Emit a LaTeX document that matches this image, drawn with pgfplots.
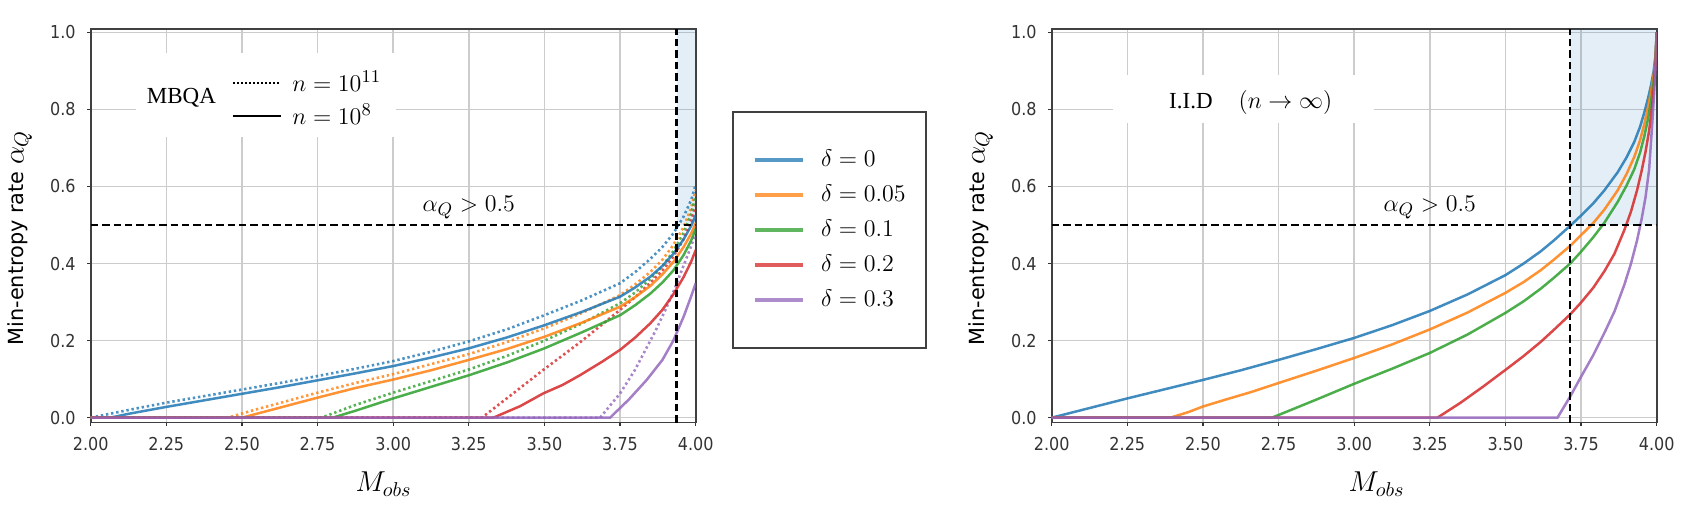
\documentclass[border=0pt]{standalone}
\usepackage{fontspec}
\setmainfont{DejaVu Sans}
\newfontfamily\tickfont{DejaVu Sans}[FakeStretch=0.9]
\newfontfamily\serifrm{Liberation Serif}
\usepackage{pgfplots}
\pgfplotsset{compat=1.18}
\definecolor{c0}{RGB}{31,119,180}
\definecolor{c1}{RGB}{255,127,14}
\definecolor{c2}{RGB}{44,160,44}
\definecolor{c3}{RGB}{214,39,40}
\definecolor{c4}{RGB}{148,103,189}
\pgfplotsset{
  myaxis/.style={
    scale only axis, width=302.5pt, height=196.7pt,
    xmin=2, xmax=4, ymin=-0.013, ymax=1.008,
    xtick={2,2.25,2.5,2.75,3,3.25,3.5,3.75,4},
    ytick={0,0.2,0.4,0.6,0.8,1},
    scaled ticks=false,
    /pgf/number format/assume math mode=true,
    xticklabel style={/pgf/number format/fixed, /pgf/number format/fixed zerofill, /pgf/number format/precision=2, inner sep=0pt, yshift=-5.4pt},
    yticklabel style={/pgf/number format/fixed, /pgf/number format/fixed zerofill, /pgf/number format/precision=1, inner sep=0pt, xshift=-5.6pt},
    tick label style={font=\tickfont\fontsize{8.9}{10}\selectfont, text=black!80},
    tick align=outside, major tick length=1.75pt,
    tick style={draw=black!80, line width=0.6pt},
    xtick pos=left, ytick pos=left,
    grid=major, major grid style={draw=black!20, line width=0.8pt},
    axis line style={draw=black!75, line width=0.8pt},
    ylabel={Min-entropy rate {\fontsize{14}{16}\selectfont$\alpha_Q$}},
    ylabel style={at={(axis description cs:-0.117,0.47)}, anchor=center, font=\fontsize{10.4}{12}\selectfont},
    xlabel={$M_{obs}$},
    xlabel style={anchor=base, font=\fontsize{14}{16}\selectfont},
    sol/.style={line width=1.25pt, draw opacity=0.85},
    dot/.style={line width=1.3pt, draw opacity=0.8, dash pattern=on 1.2pt off 1.4pt},
    thr/.style={black, line width=1.3pt, dash pattern=on 3.7pt off 2pt, forget plot},
  }
}
\begin{document}
\begin{tikzpicture}
\path[use as bounding box] (0,0) rectangle (846pt,259pt);
% ---------------- left axis (MBQA) ----------------
\begin{axis}[myaxis, at={(45.35pt,47.65pt)}, anchor=south west,
  xlabel style={at={(axis description cs:0.484,-0.176)}},
  legend style={at={(axis description cs:0.2322,0.8216)}, anchor=west, draw=none, fill=none,
    inner sep=0pt, column sep=5pt, row sep=0pt, font=\fontsize{12.5}{14}\selectfont,
    nodes={inner sep=0pt, minimum height=16.5pt}},
  legend cell align=left,
  legend image code/.code={\draw[#1] (0pt,0pt) -- (24pt,0pt);}]
\addplot[draw=none, fill=c0, fill opacity=0.12, forget plot] coordinates {(3.937,0.5) (4,0.5) (4,1.008) (3.937,1.008)} -- cycle;
% dotted n = 1e11
\addplot[dot, c0, forget plot] coordinates {(2.000,0) (2.125,0.020) (2.250,0.039) (2.375,0.056) (2.500,0.073) (2.625,0.090) (2.750,0.108) (2.875,0.127) (3.000,0.147) (3.125,0.171) (3.250,0.198) (3.375,0.229) (3.500,0.266) (3.625,0.305) (3.750,0.349) (3.800,0.378) (3.850,0.412) (3.890,0.443) (3.926,0.478) (3.960,0.522) (3.985,0.565) (4.000,0.605)};
\addplot[dot, c1, forget plot] coordinates {(2.000,0) (2.453,0) (2.540,0.020) (2.625,0.038) (2.750,0.065) (2.875,0.090) (3.000,0.113) (3.125,0.139) (3.250,0.165) (3.375,0.196) (3.500,0.232) (3.625,0.272) (3.750,0.318) (3.800,0.346) (3.850,0.378) (3.890,0.410) (3.926,0.448) (3.960,0.495) (3.985,0.545) (4.000,0.590)};
\addplot[dot, c2, forget plot] coordinates {(2.000,0) (2.763,0) (2.820,0.017) (2.875,0.033) (3.000,0.065) (3.125,0.095) (3.250,0.125) (3.375,0.160) (3.500,0.200) (3.625,0.245) (3.750,0.297) (3.800,0.325) (3.850,0.360) (3.890,0.393) (3.926,0.432) (3.960,0.480) (3.985,0.530) (4.000,0.575)};
\addplot[dot, c3, forget plot] coordinates {(2.000,0) (3.293,0) (3.400,0.065) (3.496,0.124) (3.617,0.195) (3.700,0.248) (3.750,0.280) (3.800,0.313) (3.850,0.350) (3.890,0.382) (3.926,0.418) (3.960,0.463) (3.985,0.510) (4.000,0.550)};
\addplot[dot, c4, forget plot] coordinates {(2.000,0) (3.684,0) (3.750,0.063) (3.800,0.125) (3.838,0.182) (3.870,0.230) (3.900,0.280) (3.926,0.326) (3.960,0.395) (3.985,0.445) (4.000,0.480)};
% solid n = 1e8
\addplot[sol, c0, forget plot] coordinates {(2.000,0) (2.064,0) (2.125,0.010) (2.250,0.028) (2.375,0.045) (2.500,0.062) (2.625,0.079) (2.750,0.097) (2.875,0.115) (3.000,0.134) (3.125,0.156) (3.250,0.180) (3.375,0.208) (3.500,0.240) (3.625,0.275) (3.750,0.314) (3.800,0.338) (3.850,0.366) (3.890,0.394) (3.926,0.425) (3.960,0.463) (3.985,0.498) (4.000,0.525)};
\addplot[sol, c1, forget plot] coordinates {(2.000,0) (2.500,0) (2.625,0.026) (2.750,0.052) (2.875,0.077) (3.000,0.099) (3.125,0.123) (3.250,0.150) (3.375,0.178) (3.500,0.210) (3.625,0.247) (3.750,0.288) (3.800,0.313) (3.850,0.342) (3.890,0.372) (3.926,0.404) (3.960,0.443) (3.985,0.478) (4.000,0.505)};
\addplot[sol, c2, forget plot] coordinates {(2.000,0) (2.800,0) (2.875,0.018) (3.000,0.050) (3.125,0.080) (3.250,0.110) (3.375,0.143) (3.500,0.180) (3.625,0.222) (3.750,0.266) (3.800,0.292) (3.850,0.322) (3.890,0.351) (3.926,0.382) (3.960,0.422) (3.985,0.460) (4.000,0.490)};
\addplot[sol, c3, forget plot] coordinates {(2.000,0) (3.331,0) (3.420,0.030) (3.496,0.063) (3.560,0.085) (3.617,0.110) (3.690,0.145) (3.750,0.176) (3.800,0.208) (3.850,0.245) (3.890,0.280) (3.926,0.320) (3.960,0.365) (3.985,0.405) (4.000,0.435)};
\addplot[sol, c4, forget plot] coordinates {(2.000,0) (3.717,0) (3.780,0.048) (3.838,0.098) (3.890,0.150) (3.926,0.200) (3.960,0.262) (3.985,0.315) (4.000,0.349)};
% thresholds
\addplot[thr] coordinates {(2,0.5) (4,0.5)};
\addplot[thr] coordinates {(3.937,-0.013) (3.937,1.008)};
\node[fill=white, inner sep=0pt, minimum width=130pt, minimum height=42pt] at (axis description cs:0.29,0.833) {};
\node[font=\serifrm\fontsize{11.5}{13}\selectfont] at (axis description cs:0.150,0.8254) {MBQA};
\node[font=\fontsize{12.5}{14}\selectfont, anchor=base] at (axis cs:3.25,0.534) {$\alpha_Q > 0.5$};
\addlegendimage{black, line width=1.2pt, dash pattern=on 1pt off 1pt}
\addlegendentry{$n = 10^{11}$}
\addlegendimage{black, line width=1.4pt}
\addlegendentry{$n = 10^{8}$}
\end{axis}
% ---------------- right axis (IID) ----------------
\begin{axis}[myaxis, at={(525.85pt,47.65pt)}, anchor=south west,
  xlabel style={at={(axis description cs:0.537,-0.176)}},
  legend style={at={(axis description cs:-0.5281,0.7923)}, anchor=north west, draw=black!75, line width=1pt, fill=white,
    inner xsep=10pt, inner ysep=15.25pt, column sep=8.45pt, row sep=0pt, font=\fontsize{13}{15}\selectfont,
    nodes={inner sep=0pt, minimum height=17.5pt}},
  legend cell align=left,
  legend image code/.code={\draw[#1, line width=1.6pt, draw opacity=0.75] (0pt,0pt) -- (23.85pt,0pt);}]
\addplot[draw=none, fill=c0, fill opacity=0.12, forget plot] coordinates {(3.714,0.5) (4,0.5) (4,1.008) (3.714,1.008)} -- cycle;
\addplot[sol, c0] coordinates {(2.000,0.000) (2.125,0.025) (2.250,0.050) (2.375,0.074) (2.500,0.098) (2.625,0.123) (2.750,0.150) (2.875,0.178) (3.000,0.207) (3.125,0.240) (3.250,0.277) (3.375,0.320) (3.500,0.370) (3.560,0.400) (3.617,0.432) (3.660,0.460) (3.714,0.498) (3.749,0.524) (3.790,0.556) (3.827,0.590) (3.871,0.637) (3.900,0.675) (3.926,0.716) (3.945,0.755) (3.959,0.792) (3.971,0.828) (3.981,0.862) (3.990,0.900) (3.996,0.940) (4.000,1.000)};
\addlegendentry{$\delta = 0$}
\addplot[sol, c1] coordinates {(2.000,0) (2.392,0) (2.450,0.014) (2.500,0.029) (2.575,0.047) (2.657,0.066) (2.750,0.090) (2.875,0.122) (3.000,0.155) (3.125,0.190) (3.250,0.229) (3.375,0.273) (3.500,0.324) (3.560,0.352) (3.617,0.383) (3.660,0.410) (3.714,0.446) (3.749,0.473) (3.790,0.505) (3.827,0.540) (3.871,0.590) (3.900,0.632) (3.926,0.677) (3.945,0.720) (3.959,0.762) (3.971,0.805) (3.981,0.845) (3.990,0.890) (3.996,0.935) (4.000,1.000)};
\addlegendentry{$\delta = 0.05$}
\addplot[sol, c2] coordinates {(2.000,0) (2.728,0) (2.750,0.007) (2.800,0.023) (2.875,0.047) (3.000,0.088) (3.125,0.127) (3.250,0.168) (3.375,0.216) (3.500,0.272) (3.560,0.302) (3.617,0.335) (3.660,0.363) (3.714,0.400) (3.749,0.430) (3.790,0.468) (3.827,0.506) (3.871,0.560) (3.900,0.602) (3.926,0.645) (3.945,0.688) (3.959,0.730) (3.971,0.775) (3.981,0.820) (3.990,0.870) (3.996,0.925) (4.000,1.000)};
\addlegendentry{$\delta = 0.1$}
\addplot[sol, c3] coordinates {(2.000,0) (3.275,0) (3.350,0.038) (3.425,0.080) (3.500,0.124) (3.560,0.160) (3.617,0.197) (3.660,0.228) (3.714,0.268) (3.749,0.298) (3.790,0.337) (3.827,0.380) (3.860,0.425) (3.893,0.487) (3.915,0.535) (3.935,0.590) (3.950,0.640) (3.963,0.690) (3.975,0.745) (3.985,0.810) (3.992,0.870) (3.997,0.935) (4.000,1.000)};
\addlegendentry{$\delta = 0.2$}
\addplot[sol, c4] coordinates {(2.000,0) (3.672,0) (3.714,0.055) (3.749,0.105) (3.790,0.162) (3.827,0.220) (3.860,0.275) (3.893,0.345) (3.915,0.400) (3.935,0.460) (3.950,0.515) (3.963,0.572) (3.975,0.645) (3.985,0.760) (3.992,0.850) (3.997,0.930) (4.000,1.000)};
\addlegendentry{$\delta = 0.3$}
\addplot[thr] coordinates {(2,0.5) (4,0.5)};
\addplot[thr] coordinates {(3.714,-0.013) (3.714,1.008)};
\node[fill=white, inner sep=0pt, minimum width=130.5pt, minimum height=24pt] at (axis description cs:0.3176,0.8227) {};
\node[font=\fontsize{12}{14}\selectfont] at (axis description cs:0.329,0.8127) {{\serifrm\fontsize{11.5}{13}\selectfont I.I.D}\hspace{13pt}$(n\rightarrow\infty)$};
\node[font=\fontsize{12.5}{14}\selectfont, anchor=base] at (axis cs:3.25,0.534) {$\alpha_Q > 0.5$};
\end{axis}
\end{tikzpicture}
\end{document}
